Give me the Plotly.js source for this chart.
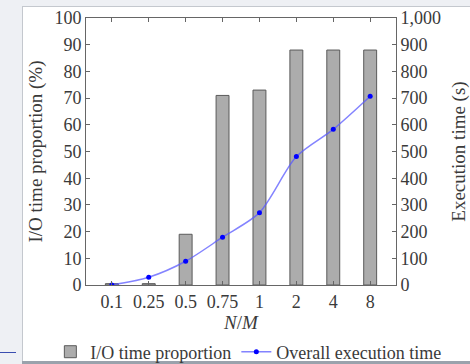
<!DOCTYPE html>
<html>
<head>
<meta charset="utf-8">
<script src="https://cdn.plot.ly/plotly-3.0.1.min.js"></script>
<style>
  html, body { margin: 0; padding: 0; width: 470px; height: 364px; overflow: hidden; background: #eef0f4; }
  #panel { position: absolute; left: 22px; top: 6px; width: 448px; height: 355px; background: #ffffff;
           border-left: 1px solid #c4c8ce; border-top: 1px solid #c4c8ce; box-sizing: border-box; }
  #bottombar { position: absolute; left: 22px; top: 361px; width: 448px; height: 3px; background: #9aa2ac; }
  #blueline { position: absolute; left: 0px; top: 352px; width: 16px; height: 1px; background: #3a4db0; }
  #chart { position: absolute; left: 0; top: 0; width: 470px; height: 364px; }
</style>
</head>
<body>
<div id="panel"></div>
<div id="bottombar"></div>
<div id="blueline"></div>
<div id="chart"></div>
<script>
const categories = ['0.1', '0.25', '0.5', '0.75', '1', '2', '4', '8'];
const ioProportion = [0.5, 0.5, 19, 71, 73, 88, 88, 88];
const executionTime = [0, 29, 89, 179, 271, 481, 583, 707];

const serif = 'Liberation Serif, Times New Roman, serif';
const textColor = '#3a3a3a';
const axisColor = '#666666';

const traces = [
  {
    type: 'bar',
    name: 'I/O time proportion',
    x: categories,
    y: ioProportion,
    width: 0.35,
    marker: { color: '#acacac', line: { color: '#5a5a5a', width: 1 } },
    yaxis: 'y'
  },
  {
    type: 'scatter',
    mode: 'lines+markers',
    name: 'Overall execution time',
    x: categories,
    y: executionTime,
    yaxis: 'y2',
    line: { color: 'rgba(90,90,255,0.75)', width: 1.5, shape: 'spline', smoothing: 0.8 },
    marker: { color: '#0000ff', size: 5 }
  }
];

const layout = {
  width: 470,
  height: 364,
  margin: { l: 86, r: 74, t: 18, b: 79, autoexpand: false },
  paper_bgcolor: 'rgba(0,0,0,0)',
  plot_bgcolor: '#ffffff',
  font: { family: serif, size: 17, color: textColor },
  showlegend: true,
  legend: {
    orientation: 'h',
    x: -0.115, xanchor: 'left',
    y: -0.251, yanchor: 'middle',
    font: { family: serif, size: 18, color: textColor },
    bgcolor: 'rgba(0,0,0,0)',
    itemwidth: 30,
    tracegroupgap: 0
  },
  xaxis: {
    type: 'category',
    range: [-0.7, 7.7],
    automargin: false,
    showline: true, linecolor: axisColor, linewidth: 1,
    mirror: 'ticks',
    ticks: 'inside', ticklen: 4, tickcolor: axisColor,
    showgrid: false, zeroline: false,
    tickfont: { family: serif, size: 18, color: textColor },
    title: { text: '<i>N</i>/<i>M</i>', font: { family: serif, size: 19, color: textColor }, standoff: 0 }
  },
  yaxis: {
    range: [0, 100],
    dtick: 10,
    automargin: false,
    showline: true, linecolor: axisColor, linewidth: 1,
    ticks: 'inside', ticklen: 4, tickcolor: axisColor,
    showgrid: false, zeroline: false,
    tickfont: { family: serif, size: 18, color: textColor },
    title: { text: 'I/O time proportion (%)', font: { family: serif, size: 19, color: textColor }, standoff: 6 }
  },
  yaxis2: {
    overlaying: 'y',
    side: 'right',
    range: [0, 1000],
    dtick: 100,
    tickformat: ',',
    automargin: false,
    showline: true, linecolor: axisColor, linewidth: 1,
    ticks: 'inside', ticklen: 4, tickcolor: axisColor,
    showgrid: false, zeroline: false,
    tickfont: { family: serif, size: 18, color: textColor },
    title: { text: 'Execution time (s)', font: { family: serif, size: 19, color: textColor }, standoff: 12 }
  }
};

Plotly.newPlot('chart', traces, layout, { displayModeBar: false, staticPlot: true });
</script>
</body>
</html>
